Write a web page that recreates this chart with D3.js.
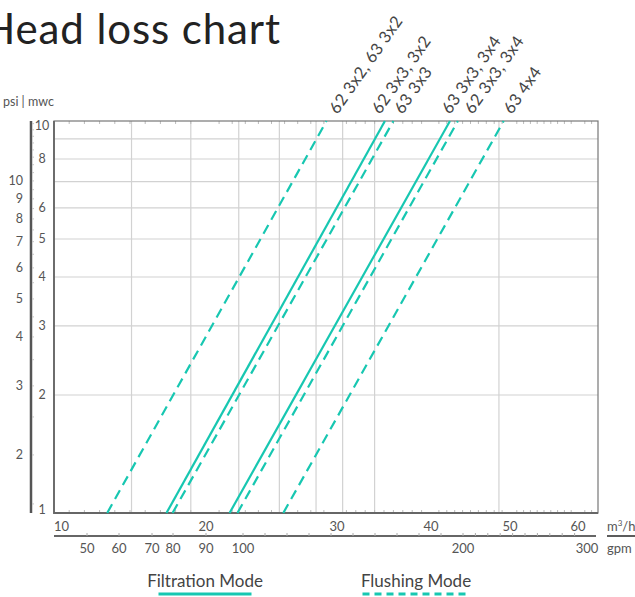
<!DOCTYPE html>
<html>
<head>
<meta charset="utf-8">
<script src="https://cdn.jsdelivr.net/npm/d3@7"></script>
<style>
body { margin: 0; background: #fff; }
svg { display: block; font-family: Lato, "Open Sans", sans-serif; }
</style>
</head>
<body>
<svg id="chart" width="635" height="597"></svg>
<script>
// values
const seriesNames = ["62 3x2, 63 3x2", "62 3x3, 3x2", "63 3x3", "63 3x3, 3x4", "62 3x3, 3x4", "63 4x4"];
const seriesMode = ["flushing", "filtration", "flushing", "filtration", "flushing", "flushing"];
const flowAt1mwc = [13.5, 17.4, 17.8, 21.8, 22.4, 25.9];   // m3/h where the line leaves 1 mwc
const flowAt10mwc = [29.2, 35.1, 36.0, 42.4, 43.4, 49.2];  // m3/h where the line reaches 10 mwc

const flowTicks = [10, 20, 30, 40, 50, 60];
const gpmTicks = [50, 60, 70, 80, 90, 100, 200, 300];
const mwcTicks = [1, 2, 3, 4, 5, 6, 8, 10];
const mwcGrid = [2, 3, 4, 5, 6, 7, 8, 9];
const psiTicks = [2, 3, 4, 5, 6, 7, 8, 9, 10];
const flowGrid = [15.1, 19.0, 22.5, 25.6, 28.4, 30.6, 34.0, 48.6];
const legendLabels = ["Filtration Mode", "Flushing Mode"];

const PSI_PER_MWC = 1.422;
const teal = "#17c7b1";

const svg = d3.select("#chart");
const plot = { left: 54, right: 598, top: 121, bottom: 513 };

// the m3/h axis of the original is hand spaced (not log), so use a piecewise scale
const x = d3.scaleLinear()
    .domain(flowTicks)
    .range([0, 152, 283, 377, 456, 524].map(d => plot.left + d));

// gpm row is spaced on its own in the original too
const xg = d3.scaleLinear()
    .domain(gpmTicks)
    .range([33, 65, 98, 119, 152, 189, 409, 533].map(d => plot.left + d));

const y = d3.scaleLog()
    .domain([1, 10])
    .range([plot.bottom, plot.top]);

// title (the original is cropped on the left)
svg.append("text")
    .attr("x", 281)
    .attr("y", 44)
    .attr("text-anchor", "end")
    .attr("font-size", 42)
    .attr("letter-spacing", 0.9)
    .attr("fill", "#222")
    .text("Head loss chart");

// grid
const grid = svg.append("g").attr("stroke", "#d2d2d2").attr("stroke-width", 1.2);
grid.selectAll("line.h")
    .data(mwcGrid)
    .enter().append("line")
    .attr("class", "h")
    .attr("x1", plot.left).attr("x2", plot.right)
    .attr("y1", d => y(d)).attr("y2", d => y(d));
grid.selectAll("line.v")
    .data(flowGrid)
    .enter().append("line")
    .attr("class", "v")
    .attr("x1", d => x(d)).attr("x2", d => x(d))
    .attr("y1", plot.top).attr("y2", plot.bottom);

// minor ticks on top and bottom of the frame
const minorFlow = d3.range(11, 63).filter(d => d % 10 !== 0);
svg.append("g")
    .attr("stroke", "#bbb")
    .selectAll("line")
    .data(minorFlow)
    .enter().append("line")
    .attr("x1", d => x(d)).attr("x2", d => x(d))
    .attr("y1", plot.bottom).attr("y2", plot.bottom - 3);
svg.append("g")
    .attr("stroke", "#bbb")
    .selectAll("line")
    .data(minorFlow)
    .enter().append("line")
    .attr("x1", d => x(d)).attr("x2", d => x(d))
    .attr("y1", plot.top).attr("y2", plot.top + 3);

// frame
svg.append("rect")
    .attr("x", plot.left).attr("y", plot.top)
    .attr("width", plot.right - plot.left).attr("height", plot.bottom - plot.top)
    .attr("fill", "none")
    .attr("stroke", "#777")
    .attr("stroke-width", 1.2);
svg.append("path")
    .attr("d", `M${plot.left},${plot.top}V${plot.bottom}H${plot.right}`)
    .attr("fill", "none")
    .attr("stroke", "#666")
    .attr("stroke-width", 1.8);

// head loss lines
const line = d3.line().x(d => x(d[0])).y(d => y(d[1]));
svg.append("g")
    .selectAll("path")
    .data(seriesNames.map((name, i) => ({
        name,
        mode: seriesMode[i],
        pts: [[flowAt1mwc[i], 1], [flowAt10mwc[i], 10]]
    })))
    .enter().append("path")
    .attr("d", d => line(d.pts))
    .attr("fill", "none")
    .attr("stroke", teal)
    .attr("stroke-width", 2.2)
    .attr("stroke-dasharray", d => d.mode === "flushing" ? "10,6" : null);

// rotated series labels above the top end of each line
const labelDx = [11, -5, 9, 0, 15, 8];
svg.append("g")
    .selectAll("text")
    .data(seriesNames)
    .enter().append("text")
    .attr("transform", (d, i) => `translate(${x(flowAt10mwc[i]) + labelDx[i]},115) rotate(-55)`)
    .attr("font-size", 16.5)
    .attr("letter-spacing", 0.4)
    .attr("fill", "#444")
    .text(d => d);

// mwc labels
svg.append("g")
    .selectAll("text")
    .data(mwcTicks)
    .enter().append("text")
    .attr("x", 42)
    .attr("y", d => Math.min(Math.max(y(d), plot.top + 5), plot.bottom - 3))
    .attr("dy", "0.35em")
    .attr("text-anchor", "middle")
    .attr("font-size", 12.5)
    .attr("fill", "#555")
    .text(d => d);

// psi bar and labels
svg.append("line")
    .attr("x1", 31).attr("x2", 31)
    .attr("y1", plot.top).attr("y2", plot.bottom)
    .attr("stroke", "#555")
    .attr("stroke-width", 2.5);
svg.append("g")
    .attr("stroke", "#c4c4c4")
    .selectAll("line")
    .data(d3.range(1.5, 14.5, 0.5))
    .enter().append("line")
    .attr("x1", 32).attr("x2", 34)
    .attr("y1", d => y(d / PSI_PER_MWC)).attr("y2", d => y(d / PSI_PER_MWC));
svg.append("g")
    .selectAll("text")
    .data(psiTicks)
    .enter().append("text")
    .attr("x", 23)
    .attr("y", d => y(d / PSI_PER_MWC))
    .attr("dy", "0.35em")
    .attr("text-anchor", "end")
    .attr("font-size", 12.5)
    .attr("fill", "#555")
    .text(d => d);

svg.append("text")
    .attr("x", 3).attr("y", 106)
    .attr("font-size", 12.5)
    .attr("fill", "#555")
    .text("psi | mwc");

// m3/h labels
svg.append("g")
    .selectAll("text")
    .data(flowTicks)
    .enter().append("text")
    .attr("x", d => x(d))
    .attr("y", 531)
    .attr("text-anchor", (d, i) => i === 0 ? "start" : "middle")
    .attr("font-size", 13)
    .attr("fill", "#555")
    .text(d => d);

// gpm row
svg.append("line")
    .attr("x1", plot.left).attr("x2", 596)
    .attr("y1", 536).attr("y2", 536)
    .attr("stroke", "#333")
    .attr("stroke-width", 1.6);
svg.append("g")
    .attr("stroke", "#aaa")
    .selectAll("line")
    .data(d3.range(50, 300, 10))
    .enter().append("line")
    .attr("x1", d => xg(d)).attr("x2", d => xg(d))
    .attr("y1", 536).attr("y2", 533);
svg.append("g")
    .selectAll("text")
    .data(gpmTicks)
    .enter().append("text")
    .attr("x", d => xg(d))
    .attr("y", 553)
    .attr("text-anchor", "middle")
    .attr("font-size", 13)
    .attr("fill", "#555")
    .text(d => d);

// units column
svg.append("text")
    .attr("x", 607).attr("y", 531)
    .attr("font-size", 13)
    .attr("fill", "#555")
    .html("m<tspan dy='-5' font-size='8'>3</tspan><tspan dy='5'>/h</tspan>");
svg.append("line")
    .attr("x1", 607).attr("x2", 635)
    .attr("y1", 536).attr("y2", 536)
    .attr("stroke", "#333")
    .attr("stroke-width", 1.6);
svg.append("text")
    .attr("x", 607).attr("y", 553)
    .attr("font-size", 13)
    .attr("fill", "#555")
    .text("gpm");

// legend
const legendX = [205, 416];
const legendW = [93, 107];
const legend = svg.append("g")
    .selectAll("g")
    .data(legendLabels)
    .enter().append("g")
    .attr("transform", (d, i) => `translate(${legendX[i]},0)`);
legend.append("text")
    .attr("y", 587)
    .attr("text-anchor", "middle")
    .attr("font-size", 17)
    .attr("fill", "#444")
    .text(d => d);
legend.append("line")
    .attr("x1", (d, i) => -legendW[i] / 2)
    .attr("x2", (d, i) => legendW[i] / 2)
    .attr("y1", 594).attr("y2", 594)
    .attr("stroke", teal)
    .attr("stroke-width", 3)
    .attr("stroke-dasharray", (d, i) => i === 1 ? "7,5" : null);
</script>
</body>
</html>
